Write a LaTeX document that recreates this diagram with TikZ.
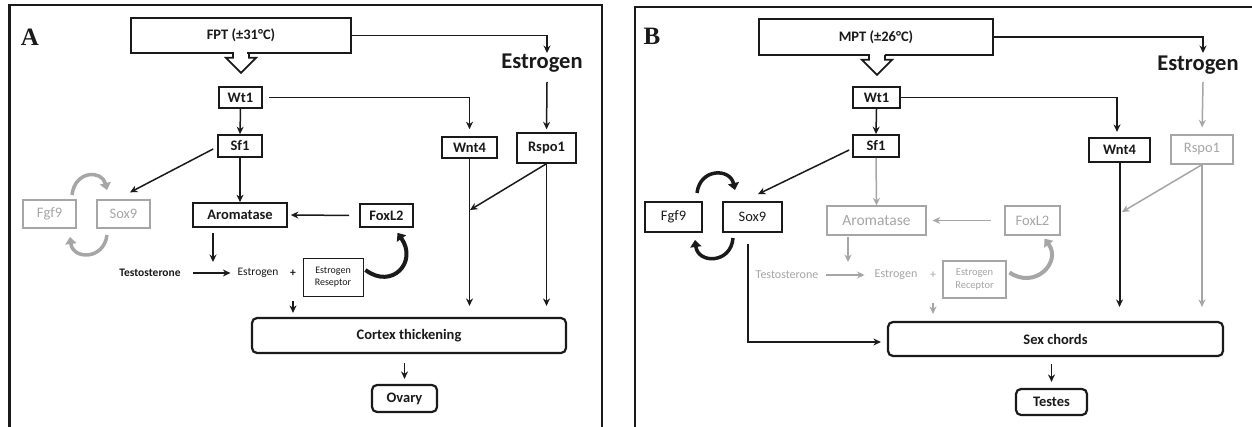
\documentclass[tikz,border=0pt]{standalone}
\usepackage{fontspec}
\setmainfont{Carlito}
\newfontfamily\labfont{Liberation Serif}
\usetikzlibrary{arrows.meta,calc}
\definecolor{dk}{HTML}{1A1A1A}
\definecolor{gr}{HTML}{A6A6A6}
\tikzset{
  bx/.style={draw=dk, line width=1.7pt, inner sep=0pt, text=dk, font=\bfseries\fontsize{14.5}{15}\selectfont},
  gbx/.style={draw=gr, line width=1.3pt, inner sep=0pt, text=gr, font=\fontsize{14.5}{15}\selectfont},
  rbx/.style={bx, rounded corners=5pt, line width=2.2pt},
  lab/.style={inner sep=0pt, text=dk, font=\labfont\bfseries\fontsize{25}{25}\selectfont},
  big/.style={inner sep=0pt, text=dk, font=\bfseries\fontsize{22.5}{23}\selectfont},
  sm/.style={inner sep=0pt, text=dk, font=\bfseries\fontsize{11.5}{12}\selectfont},
  gsm/.style={inner sep=0pt, text=gr, font=\fontsize{12}{12}\selectfont},
  erb/.style={draw=dk, line width=0.9pt, inner sep=0pt, text=dk, align=center, font=\fontsize{10}{12.5}\selectfont},
  ger/.style={draw=gr, line width=1.1pt, inner sep=0pt, text=gr, align=center, font=\fontsize{10.5}{13}\selectfont},
  arr/.style={draw=dk, line width=1.5pt, -{Stealth[length=7.5pt,width=7pt]}},
  garr/.style={draw=gr, line width=1.5pt, -{Stealth[length=7.5pt,width=7pt]}},
  harr/.style={draw=dk, line width=4pt, -{Triangle[length=7pt,width=11pt]}},
  gharr/.style={draw=gr, line width=4pt, -{Triangle[length=7pt,width=11pt]}},
  frame/.style={draw=dk, line width=2.7pt},
}
\begin{document}
\begin{tikzpicture}[x=1pt,y=-1pt]
\useasboundingbox (0,0) rectangle (1252,427);
\fill[white] (0,0) rectangle (1252,427);

% ================= Panel A =================
\draw[frame] (9.5,427) -- (9.5,5) -- (602,5) -- (602,427);
\node[lab] (labA) at (30,37) {A};
\node[bx, minimum width=220pt, minimum height=35pt] (FPT) at (241,35.5) {FPT (±31°C)};
\node[bx, minimum width=43pt, minimum height=21pt] (WtA) at (240.5,97.5) {Wt1};
\node[bx, minimum width=44pt, minimum height=22pt] (SfA) at (240,146) {Sf1};
\node[bx, minimum width=94pt, minimum height=24pt] (ArA) at (240,215) {Aromatase};
\node[gbx, minimum width=53pt, minimum height=28pt] (FgA) at (49.5,214) {Fgf9};
\node[gbx, minimum width=53pt, minimum height=28pt] (SoxA) at (123.5,214) {Sox9};
\node[bx, minimum width=53pt, minimum height=23pt] (FxA) at (386.5,215.5) {FoxL2};
\node[erb, minimum width=60pt, minimum height=38pt] (ErA) at (333,277) {Estrogen\\Reseptor};
\node[rbx, minimum width=314pt, minimum height=35pt] (CoA) at (409,335.5) {Cortex thickening};
\node[rbx, minimum width=65pt, minimum height=27pt] (OvA) at (404.5,398.5) {Ovary};
\node[bx, minimum width=55pt, minimum height=21pt] (WnA) at (469.5,147.5) {Wnt4};
\node[bx, line width=1.4pt, minimum width=59pt, minimum height=30pt] (RsA) at (546.5,148) {Rspo1};
\node[big] (EstA) at (542,63) {Estrogen};
\node[sm] (TeA) at (150,273) {Testosterone};
\node[sm, font=\fontsize{11.5}{12}\selectfont] (EsA) at (258,273) {Estrogen};
\node[sm] (plA) at (293,273) {+};
\coordinate (eAt) at (547,53);
\coordinate (eAb) at (547,82);
\coordinate (rxA) at (213,273);
\coordinate (jA) at (470,210);

% hollow block arrow
\fill[white] (233.5,50) rectangle (246.5,56);
\draw[dk, line width=1.7pt, line join=miter] ($(FPT.south)+(-8,-1)$) -- ++(0,5) -- ++(-7,0) -- ++(15,15) -- ++(15,-15) -- ++(-7,0) -- ++(0,-5);

\draw[arr] (FPT.east) -| (eAt);
\draw[arr, shorten >=3pt] (eAb) -- (RsA.north);
\draw[arr] (WtA.south) -- (SfA.north);
\draw[arr, shorten <=6pt, shorten >=7pt] (WtA.east) -| (WnA.north);
\draw[arr] ($(SfA.west)+(-4,3)$) -- ($(SoxA.north)+(6.5,-7)$);
\draw[arr] (SfA.south) -- (ArA.north);
\draw[arr, shorten <=10pt, shorten >=3pt] (FxA.west) -- (ArA.east);
\draw[arr, line width=1.8pt, shorten <=5pt, shorten >=11pt] (ArA.south -| rxA) -- (rxA);
\draw[arr, line width=1.8pt, shorten <=12pt, shorten >=7pt] (TeA.east) -- (EsA.west);
\draw[arr, shorten <=25pt, shorten >=4pt] (plA) -- (plA |- CoA.north);
\draw[harr] ($(ErA.east)+(2,-7)$) .. controls (392,290) and (418,262) .. ($(FxA.south)+(11,5)$);
\draw[arr] (RsA.south) -- (jA);
\draw[arr, shorten >=11pt] (WnA.south) -- (WnA.south |- CoA.north);
\draw[arr, shorten >=11pt] (RsA.south) -- (RsA.south |- CoA.north);
\draw[arr, shorten <=9pt, shorten >=5pt] (CoA.south -| OvA.north) -- (OvA.north);
\draw[gharr, line width=3.5pt] (72,195) .. controls (75,170) and (102,170) .. (107,190);
\draw[gharr, line width=3.5pt] (107,235) .. controls (104,260) and (73,260) .. (70,237);

% ================= Panel B =================
\draw[frame] (635,427) -- (635,7) -- (1252,7);
\node[lab] (labB) at (652,36) {B};
\node[bx, minimum width=234pt, minimum height=36pt] (MPT) at (876,37) {MPT (±26°C)};
\node[bx, minimum width=47pt, minimum height=21pt] (WtB) at (876.5,97.5) {Wt1};
\node[bx, minimum width=46pt, minimum height=22pt] (SfB) at (876,146) {Sf1};
\node[bx, minimum width=57pt, minimum height=30pt, font=\fontsize{14.5}{15}\selectfont] (FgB) at (673.5,217) {Fgf9};
\node[bx, minimum width=59pt, minimum height=30pt, font=\fontsize{14.5}{15}\selectfont] (SoxB) at (752.5,217) {Sox9};
\node[gbx, minimum width=99pt, minimum height=29pt, font=\fontsize{15.5}{16}\selectfont] (ArB) at (876.5,220.5) {Aromatase};
\node[gbx, minimum width=55pt, minimum height=29pt] (FxB) at (1032.5,220.5) {FoxL2};
\node[ger, minimum width=63pt, minimum height=37pt] (ErB) at (974.5,279.5) {Estrogen\\Receptor};
\node[rbx, minimum width=335pt, minimum height=34pt] (SxB) at (1055.5,339) {Sex chords};
\node[rbx, minimum width=71pt, minimum height=26pt] (TsB) at (1051.5,402) {Testes};
\node[bx, line width=2.2pt, minimum width=61pt, minimum height=24pt] (WnB) at (1119.5,150) {Wnt4};
\node[gbx, minimum width=62pt, minimum height=29pt] (RsB) at (1202,149.5) {Rspo1};
\node[big] (EstB) at (1198,65) {Estrogen};
\node[gsm] (TeB) at (787,275) {Testosterone};
\node[gsm] (EsB) at (896,275) {Estrogen};
\node[gsm] (plB) at (933,275) {+};
\coordinate (eBt) at (1203,53);
\coordinate (eBb) at (1203,82);
\coordinate (rxB) at (848,275);
\coordinate (jB) at (1122,212);

\fill[white] (869.5,52) rectangle (884.5,58);
\draw[dk, line width=1.7pt, line join=miter] ($(MPT.south)+(-7,-1)$) -- ++(0,5) -- ++(-7,0) -- ++(15,15) -- ++(15,-15) -- ++(-7,0) -- ++(0,-5);

\draw[arr] (MPT.east) -| (eBt);
\draw[garr, shorten >=7pt] (eBb) -- (RsB.north);
\draw[arr] (WtB.south) -- (SfB.north);
\draw[arr, shorten >=5pt] (WtB.east) -| ($(WnB.north)+(-2.5,0)$);
\draw[arr] ($(SfB.west)+(-3,4)$) -- ($(SoxB.north)+(5.5,-7)$);
\draw[garr] (SfB.south) -- (ArB.north);
\draw[garr, shorten <=13pt, shorten >=6pt] (FxB.west) -- (ArB.east);
\draw[garr, shorten <=1pt, shorten >=13pt] (ArB.south -| rxB) -- (rxB);
\draw[garr, shorten <=8pt, shorten >=10pt] (TeB.east) -- (EsB.west);
\draw[garr, shorten <=25pt, shorten >=7pt] (plB) -- (plB |- SxB.north);
\draw[gharr] ($(ErB.east)+(3,-7)$) .. controls (1035,290) and (1062,262) .. ($(FxB.south)+(12,3)$);
\draw[garr] (RsB.south) -- (jB);
\draw[arr, line width=2pt, shorten >=14pt] (WnB.south) -- (WnB.south |- SxB.north);
\draw[garr, shorten >=14pt] (RsB.south) -- (RsB.south |- SxB.north);
\draw[arr, line width=2pt, shorten >=6pt] ($(SoxB.south)+(-4.5,11)$) |- ($(SxB.west)+(0,3)$);
\draw[arr, line width=1.8pt, shorten <=7pt, shorten >=6pt] (SxB.south -| TsB.north) -- (TsB.north);
\draw[harr, line width=3.5pt] (697,193) .. controls (700,168) and (730,168) .. (735,190);
\draw[harr, line width=3.5pt] (733,238) .. controls (731,264) and (698,264) .. (695,240);
\end{tikzpicture}
\end{document}
